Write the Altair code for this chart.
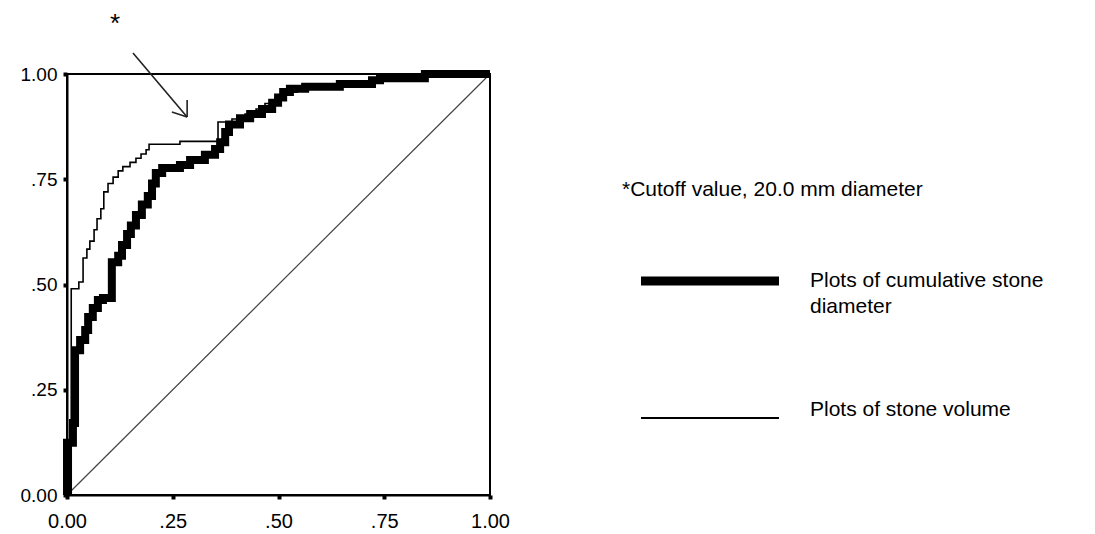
import altair as alt
import pandas as pd

# ---- data ----
thick_x = [0, 0, 0.014, 0.019, 0.031, 0.043, 0.050, 0.061, 0.073, 0.085, 0.106, 0.121, 0.130,
           0.142, 0.151, 0.163, 0.177, 0.191, 0.201, 0.210, 0.225, 0.267, 0.291, 0.326, 0.350,
           0.362, 0.374, 0.383, 0.409, 0.433, 0.461, 0.485, 0.499, 0.511, 0.527, 0.563, 0.645,
           0.721, 0.740, 0.846, 1.0]
thick_y = [0, 0.124, 0.171, 0.344, 0.368, 0.392, 0.423, 0.444, 0.463, 0.468, 0.553, 0.568, 0.594,
           0.620, 0.640, 0.665, 0.690, 0.710, 0.740, 0.765, 0.777, 0.784, 0.796, 0.808, 0.822,
           0.838, 0.862, 0.880, 0.895, 0.905, 0.917, 0.932, 0.944, 0.957, 0.965, 0.970, 0.976,
           0.985, 0.990, 1.0, 1.0]

thin_x = [0, 0.010, 0.028, 0.038, 0.047, 0.054, 0.064, 0.071, 0.080, 0.087, 0.097, 0.109, 0.121,
          0.132, 0.149, 0.163, 0.175, 0.187, 0.194, 0.267, 0.357, 0.390, 0.421, 0.447, 0.468,
          0.492, 0.511, 0.544, 0.645, 0.716, 0.835, 1.0]
thin_y = [0, 0.490, 0.506, 0.563, 0.584, 0.603, 0.630, 0.656, 0.680, 0.720, 0.740, 0.755, 0.770,
          0.780, 0.790, 0.800, 0.810, 0.820, 0.833, 0.840, 0.886, 0.893, 0.905, 0.917, 0.930,
          0.943, 0.957, 0.966, 0.983, 0.990, 1.0, 1.0]

diag_x = [0, 1]
diag_y = [0, 1]

tick_values = [0, 0.25, 0.5, 0.75, 1.0]
tick_labels = ["0.00", ".25", ".50", ".75", "1.00"]

# annotation arrow (data coordinates)
arrow_x1 = [0.156, 0.248, 0.284]
arrow_y1 = [1.05, 0.910, 0.938]
arrow_x2 = [0.284, 0.284, 0.284]
arrow_y2 = [0.898, 0.898, 0.898]

cutoff_text = "*Cutoff value, 20.0 mm diameter"
legend_thick_text = ["Plots of cumulative stone", "diameter"]
legend_thin_text = "Plots of stone volume"

FONT = "Liberation Sans"

thick_df = pd.DataFrame({"x": thick_x, "y": thick_y, "o": range(len(thick_x))})
thin_df = pd.DataFrame({"x": thin_x, "y": thin_y, "o": range(len(thin_x))})
diag_df = pd.DataFrame({"x": diag_x, "y": diag_y})
arrow_df = pd.DataFrame({"x": arrow_x1, "y": arrow_y1, "x2": arrow_x2, "y2": arrow_y2})

label_expr = "[" + ",".join("'%s'" % t for t in tick_labels) + "][round(datum.value*4)]"

xscale = alt.Scale(domain=[0, 1], nice=False, zero=False)
yscale = alt.Scale(domain=[0, 1], nice=False, zero=False)

xaxis = alt.Axis(values=tick_values, labelExpr=label_expr, title=None, grid=False,
                 domainColor="black", domainWidth=2, tickColor="black", tickSize=4,
                 tickWidth=4, labelFont=FONT, labelFontSize=20, labelColor="black",
                 labelPadding=12, labelFlush=False)
yaxis = alt.Axis(values=tick_values, labelExpr=label_expr, title=None, grid=False,
                 domainColor="black", domainWidth=2, tickColor="black", tickSize=4,
                 tickWidth=4, labelFont=FONT, labelFontSize=19, labelColor="black",
                 labelPadding=6, labelFlush=False)

diag = alt.Chart(diag_df).mark_line(color="#444444", strokeWidth=1.2).encode(
    x=alt.X("x:Q", scale=xscale, axis=xaxis),
    y=alt.Y("y:Q", scale=yscale, axis=yaxis),
)

thin = alt.Chart(thin_df).mark_line(color="black", strokeWidth=1.6, interpolate="step-after").encode(
    x=alt.X("x:Q", scale=xscale), y=alt.Y("y:Q", scale=yscale), order="o:Q"
)

thick = alt.Chart(thick_df).mark_line(color="black", strokeWidth=8, interpolate="step-after",
                                      strokeJoin="miter", strokeCap="butt").encode(
    x=alt.X("x:Q", scale=xscale), y=alt.Y("y:Q", scale=yscale), order="o:Q"
)

arrow = alt.Chart(arrow_df).mark_rule(color="#222222", strokeWidth=1.6).encode(
    x=alt.X("x:Q", scale=xscale), y=alt.Y("y:Q", scale=yscale),
    x2="x2:Q", y2="y2:Q"
)

star = alt.Chart(pd.DataFrame({"t": ["*"]})).mark_text(
    font=FONT, fontSize=26, color="black", align="center", baseline="middle"
).encode(text="t:N", x=alt.value(48), y=alt.value(-50))

cutoff = alt.Chart(pd.DataFrame({"t": [cutoff_text]})).mark_text(
    font=FONT, fontSize=21, color="black", align="left", baseline="middle"
).encode(text="t:N", x=alt.value(555), y=alt.value(116))

leg_thick_line = alt.Chart(pd.DataFrame({"a": [0]})).mark_rule(
    color="black", strokeWidth=9, strokeCap="butt"
).encode(x=alt.value(574), x2=alt.value(712), y=alt.value(207))

leg_thin_line = alt.Chart(pd.DataFrame({"a": [0]})).mark_rule(
    color="black", strokeWidth=1.8, strokeCap="butt"
).encode(x=alt.value(574), x2=alt.value(712), y=alt.value(344))

leg_thick_txt = alt.Chart(pd.DataFrame({"t": [legend_thick_text]})).mark_text(
    font=FONT, fontSize=21, color="black", align="left", baseline="middle", lineHeight=26
).encode(text="t", x=alt.value(743), y=alt.value(207))

leg_thin_txt = alt.Chart(pd.DataFrame({"t": [legend_thin_text]})).mark_text(
    font=FONT, fontSize=21, color="black", align="left", baseline="middle"
).encode(text="t:N", x=alt.value(743), y=alt.value(336))

chart = alt.layer(
    diag, thin, thick, arrow, star, cutoff, leg_thick_line, leg_thin_line, leg_thick_txt, leg_thin_txt
).properties(
    width=423, height=421,
    autosize=alt.AutoSizeParams(type="none"),
    padding={"left": 59, "top": 66, "right": 597, "bottom": 45},
    background="white",
).configure_view(stroke="black", strokeWidth=2)

chart.save("out.html", embed_options={"renderer": "svg", "actions": False})
